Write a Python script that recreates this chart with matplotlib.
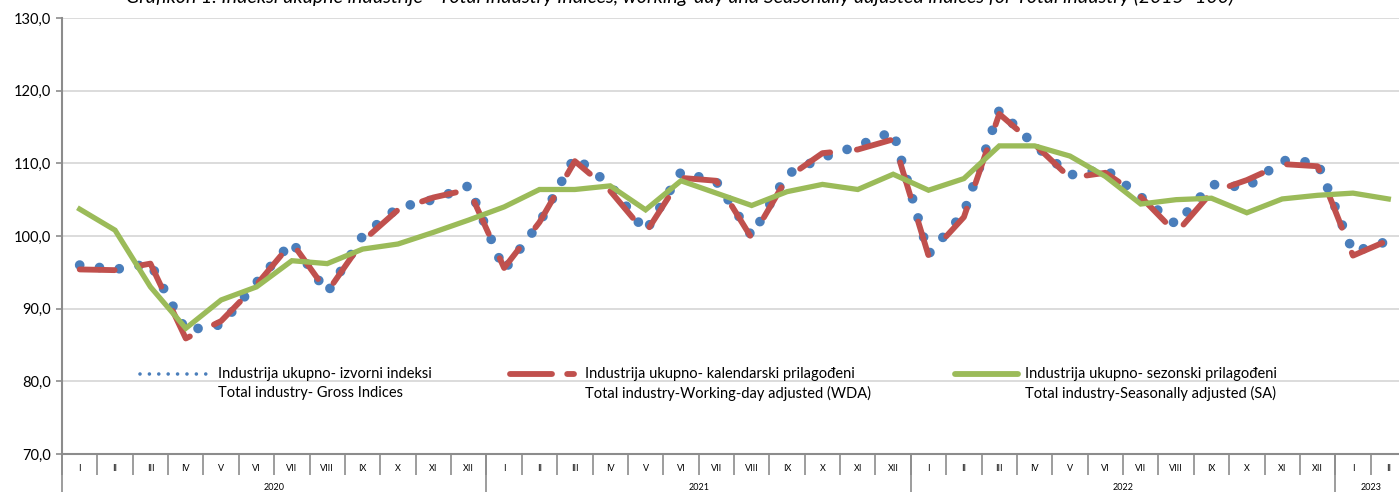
import matplotlib
matplotlib.use("Agg")
import matplotlib.pyplot as plt
import matplotlib.transforms as mtransforms
import numpy as np

plt.rcParams['font.family'] = ['Lato', 'DejaVu Sans']

# month / year labels
months = ['I', 'II', 'III', 'IV', 'V', 'VI', 'VII', 'VIII', 'IX', 'X', 'XI', 'XII']
month_labels = months * 3 + ['I', 'II']
years = ['2020', '2021', '2022', '2023']
year_len = [12, 12, 12, 2]

# Industrija ukupno - izvorni indeksi (gross)
gross = [96.0, 95.4, 96.2, 87.0, 87.8, 93.6, 99.2, 92.2, 100.0, 103.9, 105.0, 106.9,
         95.3, 101.8, 110.9, 107.0, 100.6, 108.8, 107.5, 100.0, 108.5, 110.8, 112.4, 114.4,
         97.5, 103.2, 117.3, 112.5, 108.4, 109.2, 105.4, 101.6, 107.1, 106.7, 110.4, 110.1,
         97.8, 99.3]
# kalendarski prilagodeni (WDA)
wda = [95.4, 95.3, 96.2, 85.9, 88.3, 93.3, 99.1, 92.3, 99.3, 103.6, 105.3, 106.4,
       95.6, 101.9, 110.3, 106.2, 100.4, 108.0, 107.6, 99.7, 108.0, 111.4, 111.9, 113.3,
       97.3, 102.6, 116.8, 112.6, 108.0, 108.7, 105.4, 100.4, 106.0, 107.7, 109.9, 109.6,
       97.3, 99.4]
# sezonski prilagodeni (SA)
sa = [103.7, 100.8, 93.0, 87.3, 91.2, 93.0, 96.6, 96.2, 98.2, 98.9, 100.5, 102.2,
      104.0, 106.4, 106.4, 106.9, 103.6, 107.6, 105.9, 104.2, 106.1, 107.1, 106.4, 108.5,
      106.3, 107.9, 112.4, 112.4, 111.0, 108.2, 104.4, 105.0, 105.2, 103.2, 105.1, 105.6,
      105.9, 105.1]

labels1 = ['Industrija ukupno- izvorni indeksi',
           'Industrija ukupno- kalendarski prilagođeni',
           'Industrija ukupno- sezonski prilagođeni']
labels2 = ['Total industry- Gross Indices',
           'Total industry-Working-day adjusted (WDA)',
           'Total industry-Seasonally adjusted (SA)']

blue = '#4a7ebb'
red = '#c0504d'
green = '#9bbb59'
axis_col = '#8c8c8c'

W, H = 1399, 492
fig = plt.figure(figsize=(W / 100, H / 100), dpi=100)
ax = fig.add_axes([62 / W, 38 / H, 1344 / W, 436 / H])

x = np.arange(len(gross)) + 0.5

ax.plot(x, gross, color=blue, lw=7.0, ls=(0, (0.001, 2.05)),
        dash_capstyle='round', solid_capstyle='round', zorder=3)
ax.plot(x, wda, color=red, lw=4.2, ls=(0, (6.0, 4.6)),
        dash_capstyle='round', zorder=4)
ax.plot(x, sa, color=green, lw=3.8, solid_joinstyle='miter', zorder=5)

ax.set_xlim(0, 38)
ax.set_ylim(70, 130)

ax.set_yticks(np.arange(70, 131, 10))
ax.set_yticklabels([('%.1f' % v).replace('.', ',') for v in np.arange(70, 131, 10)])
ax.yaxis.grid(True, color='#d9d9d9', lw=1.3)
ax.set_axisbelow(True)
ax.tick_params(axis='y', length=4, width=1.2, color=axis_col, labelsize=10.5, pad=4)

ax.set_xticks(np.arange(0, 39))
ax.set_xticklabels([])
ax.set_xticks(x, minor=True)
ax.set_xticklabels(month_labels, minor=True)
ax.tick_params(axis='x', which='major', length=15, width=1.2, color=axis_col)
ax.tick_params(axis='x', which='minor', length=0, labelsize=6.5, pad=7)

for s in ['top', 'right']:
    ax.spines[s].set_visible(False)
for s in ['left', 'bottom']:
    ax.spines[s].set_color(axis_col)
    ax.spines[s].set_linewidth(1.5)

# year separators and labels
trans = mtransforms.blended_transform_factory(ax.transData, ax.transAxes)
start = 0
for yr, n in zip(years, year_len):
    ax.plot([start, start], [0, -40 / 436], color=axis_col, lw=1.2,
            transform=trans, clip_on=False)
    ax.text(start + n / 2, -34 / 436, yr, transform=trans, ha='center', va='center',
            fontsize=6.5)
    start += n

# legend drawn by hand: handle on the first text line
styles = [dict(color=blue, lw=2.6, ls=(0, (0.001, 2.6)), dash_capstyle='round'),
          dict(color=red, lw=4.2, ls=(0, (7.2, 2.6, 1.2, 2.6)), dash_capstyle='round'),
          dict(color=green, lw=4.2, solid_capstyle='round')]
hx = [(140, 210), (510, 574), (955, 1018)]
tx = [218, 585, 1025]
for (a, b), t, st, l1, l2 in zip(hx, tx, styles, labels1, labels2):
    ya = (454 - 374) / 436
    ax.plot([(a - 62) / 1344, (b - 62) / 1344], [ya, ya], transform=ax.transAxes, **st)
    ax.text((t - 62) / 1344, ya, l1, transform=ax.transAxes, va='center', fontsize=10.5)
    ax.text((t - 62) / 1344, (454 - 393) / 436, l2, transform=ax.transAxes,
            va='center', fontsize=10.5)

# title, cut off at the top of the picture as in the source
fig.text(0.486, 1 - 3 / H,
         'Grafikon 1. Indeksi ukupne industrije - Total Industry Indices, working-day and '
         'Seasonally adjusted indices for Total industry (2015=100)',
         ha='center', va='baseline', fontsize=14, style='italic')

fig.savefig('out.png', dpi=100)
